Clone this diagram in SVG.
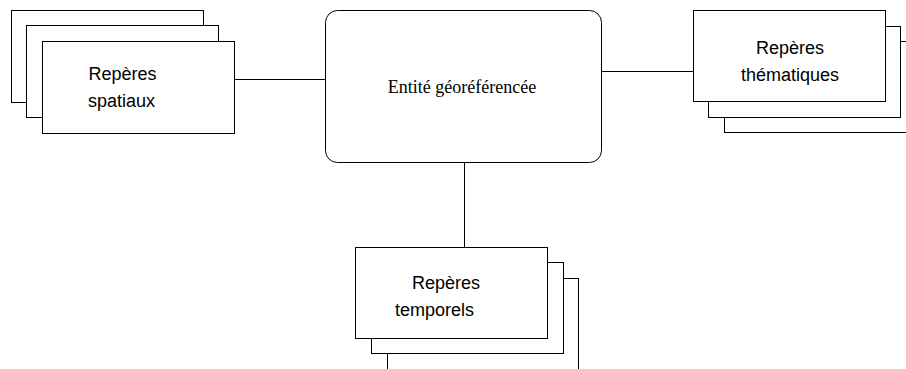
<svg xmlns="http://www.w3.org/2000/svg" width="906" height="369" viewBox="0 0 906 369">
<style>
.box{fill:#fff;stroke:#000;stroke-width:1}
.conn{stroke:#000;stroke-width:1;fill:none}
.sans{font-family:"Liberation Sans",Arial,sans-serif;font-size:18px;fill:#000}
.serif{font-family:"Liberation Serif","Times New Roman",serif;font-size:18px;fill:#000}
</style>
<rect width="906" height="369" fill="#fff"/>
<g id="connectors">
<line class="conn" x1="234.5" y1="79.5" x2="325.5" y2="79.5"/>
<line class="conn" x1="601.5" y1="71.5" x2="693.5" y2="71.5"/>
<line class="conn" x1="464.5" y1="162.5" x2="464.5" y2="247.5"/>
</g>
<g id="entite">
<rect class="box" x="325.5" y="10.5" width="276" height="152" rx="12" ry="12"/>
<text class="serif" x="462" y="93" text-anchor="middle">Entité géoréférencée</text>
</g>
<g id="reperes-spatiaux">
<rect class="box" x="11.5" y="10.5" width="192" height="92"/>
<rect class="box" x="26.5" y="25.5" width="192" height="92"/>
<rect class="box" x="42.5" y="41.5" width="192" height="92"/>
<text class="sans" x="88.5" y="80">Repères</text>
<text class="sans" x="88" y="107">spatiaux</text>
</g>
<g id="reperes-thematiques">
<rect class="box" x="724.5" y="41.5" width="192" height="91"/>
<rect class="box" x="708.5" y="26.5" width="192" height="91"/>
<rect class="box" x="693.5" y="10.5" width="192" height="91"/>
<text class="sans" x="790" y="54" text-anchor="middle">Repères</text>
<text class="sans" x="790" y="81" text-anchor="middle">thématiques</text>
</g>
<g id="reperes-temporels">
<rect class="box" x="387.5" y="278.5" width="191" height="91"/>
<rect class="box" x="371.5" y="262.5" width="192" height="91"/>
<rect class="box" x="355.5" y="247.5" width="192" height="91"/>
<text class="sans" x="412" y="289">Repères</text>
<text class="sans" x="395" y="316">temporels</text>
</g>
</svg>
